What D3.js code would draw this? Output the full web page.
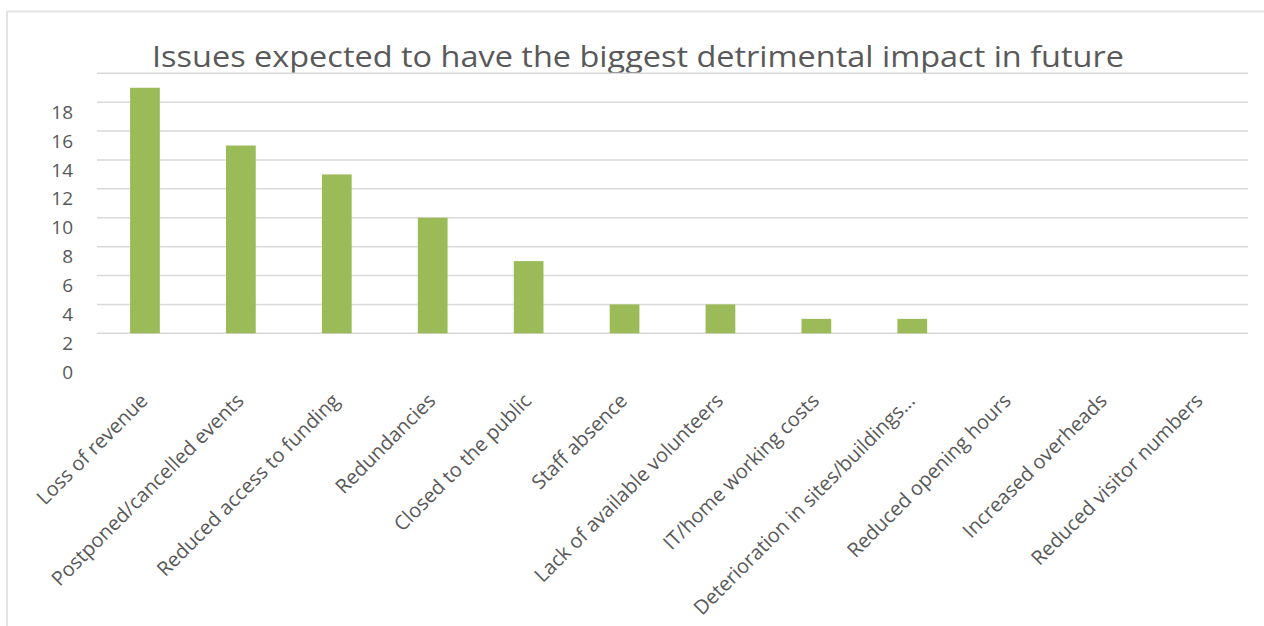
<!DOCTYPE html>
<html>
<head>
<meta charset="utf-8">
<script src="https://cdn.jsdelivr.net/npm/d3@7"></script>
<style>
  html, body { margin: 0; padding: 0; background: #fff; }
  svg { display: block; }
  text { font-family: "Open Sans", "Liberation Sans", sans-serif; fill: #595959; }
</style>
</head>
<body>
<svg id="chart" width="1264" height="626"></svg>
<script>
// Survey responses: issues expected to have the biggest detrimental impact
const categories = [
  "Loss of revenue",
  "Postponed/cancelled events",
  "Reduced access to funding",
  "Redundancies",
  "Closed to the public",
  "Staff absence",
  "Lack of available volunteers",
  "IT/home working costs",
  "Deterioration in sites/buildings...",
  "Reduced opening hours",
  "Increased overheads",
  "Reduced visitor numbers"
];
const values = [19, 15, 13, 10, 7, 4, 4, 3, 3, 0, 0, 0];
const tickValues = [0, 2, 4, 6, 8, 10, 12, 14, 16, 18];
const gridValues = [2, 4, 6, 8, 10, 12, 14, 16, 18, 20];
const axisFloor = 2;
const axisMax = 20;
const title = "Issues expected to have the biggest detrimental impact in future";

const svg = d3.select("#chart");
const W = 1264, H = 626;

const plot = { left: 97, right: 1248, top: 73.3, bottom: 333.3 };

// frame
svg.append("path")
  .attr("d", `M7,${H} V11.5 H${W}`)
  .attr("fill", "none")
  .attr("stroke", "#e3e3e3")
  .attr("stroke-width", 2);

// title
svg.append("text")
  .attr("x", 638)
  .attr("y", 67)
  .attr("text-anchor", "middle")
  .attr("font-size", 29)
  .attr("textLength", 972)
  .attr("lengthAdjust", "spacingAndGlyphs")
  .text(title);

const x = d3.scaleBand()
  .domain(categories)
  .range([plot.left, plot.right])
  .paddingInner(0.69)
  .paddingOuter(0.345);

const y = d3.scaleLinear()
  .domain([axisFloor, axisMax])
  .range([plot.bottom, plot.top]);

// gridlines
svg.append("g")
  .selectAll("line")
  .data(gridValues)
  .join("line")
  .attr("x1", plot.left)
  .attr("x2", plot.right)
  .attr("y1", d => y(d))
  .attr("y2", d => y(d))
  .attr("stroke", "#d9d9d9")
  .attr("stroke-width", 1.5);

// y axis labels
const yAxis = d3.axisLeft(y)
  .tickValues(tickValues)
  .tickSize(0)
  .tickPadding(0)
  .tickFormat(d3.format("d"));

const gy = svg.append("g")
  .attr("transform", "translate(73,10)")
  .call(yAxis);
gy.select(".domain").remove();
gy.selectAll("text")
  .attr("font-size", 19)
  .attr("fill", "#595959")
  .style("font-family", "'Open Sans', sans-serif");

// bars
svg.append("g")
  .selectAll("rect")
  .data(values)
  .join("rect")
  .attr("x", (d, i) => x(categories[i]))
  .attr("width", x.bandwidth())
  .attr("y", d => y(Math.max(d, axisFloor)))
  .attr("height", d => y(axisFloor) - y(Math.max(d, axisFloor)))
  .attr("fill", "#9bbb59");

// category labels
const xAxis = d3.axisBottom(x).tickSize(0).tickPadding(0);
const gx = svg.append("g")
  .attr("transform", "translate(0,402)")
  .call(xAxis);
gx.select(".domain").remove();
gx.selectAll("text")
  .attr("font-size", 20)
  .attr("fill", "#5f5f5f")
  .style("font-family", "'Open Sans', sans-serif")
  .attr("text-anchor", "end")
  .attr("dy", 0)
  .attr("y", 0)
  .attr("transform", "translate(4,0) rotate(-45)");
</script>
</body>
</html>
